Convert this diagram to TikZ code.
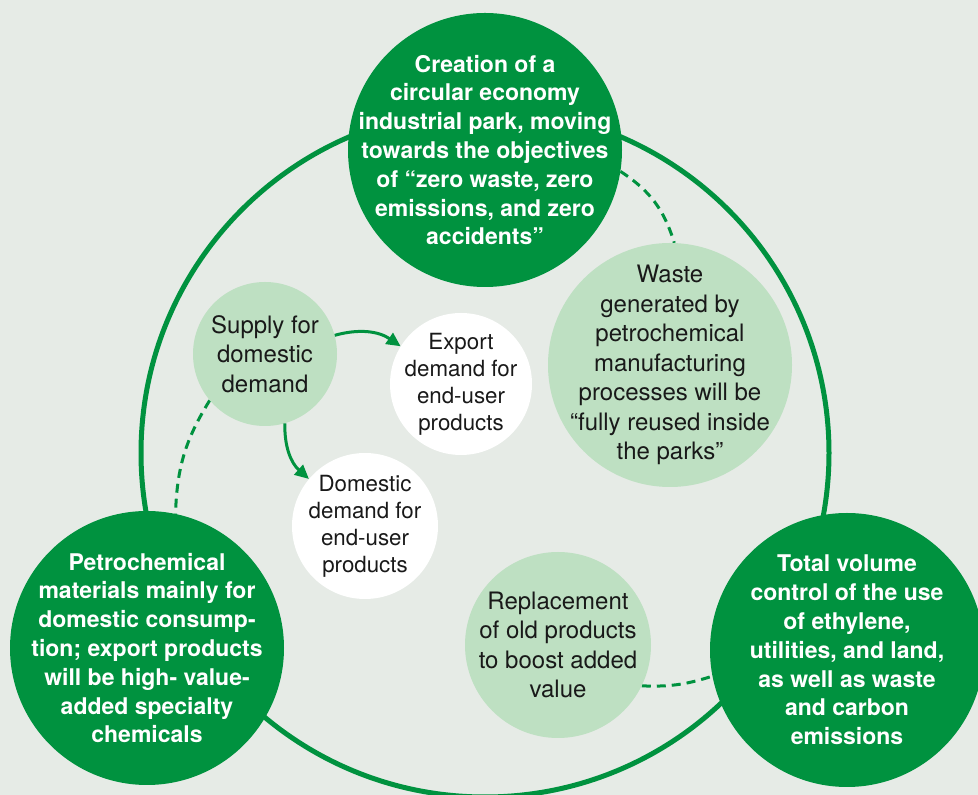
\documentclass[tikz,border=0pt]{standalone}
\usepackage{fontspec}
\setmainfont{TeX Gyre Heros}
\usetikzlibrary{arrows.meta}
\definecolor{bgc}{RGB}{230,235,230}
\definecolor{dkg}{RGB}{0,146,63}
\definecolor{ltg}{RGB}{190,224,194}
\definecolor{txtc}{RGB}{25,25,25}
\pgfdeclarelayer{back}
\pgfdeclarelayer{bg}
\pgfsetlayers{back,bg,main}
\begin{document}
\begin{tikzpicture}[x=1pt,y=1pt,
  darkc/.style={circle,fill=dkg,minimum size=274pt,inner sep=0pt},
  lightc/.style={circle,fill=ltg,inner sep=0pt},
  whitec/.style={circle,fill=white,inner sep=0pt},
  boldtxt/.style={text=white,align=center,inner sep=0pt,font=\fontsize{23}{28.8}\selectfont\bfseries},
  regtxt/.style={text=txtc,align=center,inner sep=0pt,font=\fontsize{24}{29.5}\selectfont},
  smalltxt/.style={text=txtc,align=center,inner sep=0pt,font=\fontsize{22.3}{27}\selectfont},
  ring/.style={draw=dkg,line width=5pt},
  dashlink/.style={draw=dkg,line width=3pt,dash pattern=on 9pt off 6pt},
  arrowlink/.style={draw=dkg,line width=3pt,-{Triangle[length=14pt,width=13pt]}}
]
\begin{pgfonlayer}{back}
  \fill[bgc] (0,0) rectangle (978,795);
\end{pgfonlayer}
\useasboundingbox (0,0) rectangle (978,795);

% main circles
\node[darkc] (top) at (485,645) {};
\node[boldtxt] (top-t) at (top) {Creation of a\\circular economy\\industrial park, moving\\towards the objectives\\of “zero waste, zero\\emissions, and zero\\accidents”};

\node[darkc] (bl) at (147,147) {};
\node[boldtxt] (bl-t) at (bl) {Petrochemical\\materials mainly for\\domestic consump-\\tion; export products\\will be high- value-\\added specialty\\chemicals};

\node[darkc] (br) at (847,145) {};
\node[boldtxt] (br-t) at (br) {Total volume\\control of the use\\of ethylene,\\utilities, and land,\\as well as waste\\and carbon\\emissions};

% light circles
\node[lightc,minimum size=144pt] (supply) at (265,441) {};
\node[regtxt] (supply-t) at (supply) {Supply for\\domestic\\demand};

\node[lightc,minimum size=244pt] (waste) at (670,430) {};
\node[regtxt] (waste-t) at (waste) {Waste\\generated by\\petrochemical\\manufacturing\\processes will be\\“fully reused inside\\the parks”};

\node[lightc,minimum size=186pt] (repl) at (558,150) {};
\node[regtxt] (repl-t) at (repl) {Replacement\\of old products\\to boost added\\value};

% white circles
\node[whitec,minimum size=142pt] (export) at (461,411) {};
\node[smalltxt] (export-t) at (export) {Export\\demand for\\end-user\\products};

\node[whitec,minimum size=146pt] (domestic) at (365,269) {};
\node[smalltxt] (domestic-t) at (domestic) {Domestic\\demand for\\end-user\\products};

\begin{pgfonlayer}{bg}
  \coordinate (ringc) at (485,342);
  \draw[ring] (ringc) circle (344);
  \draw[dashlink] (top.-9) to[bend left=20] (waste.88);
  \draw[dashlink] (supply.220) to[bend right=15] (bl.78);
  \draw[dashlink] (repl.-26) to[bend right=10] (br.191);
\end{pgfonlayer}
\draw[arrowlink] (supply.15) to[bend left=25] (export.148);
\draw[arrowlink] (supply.-74) to[bend right=25] (domestic.140);
\end{tikzpicture}
\end{document}
